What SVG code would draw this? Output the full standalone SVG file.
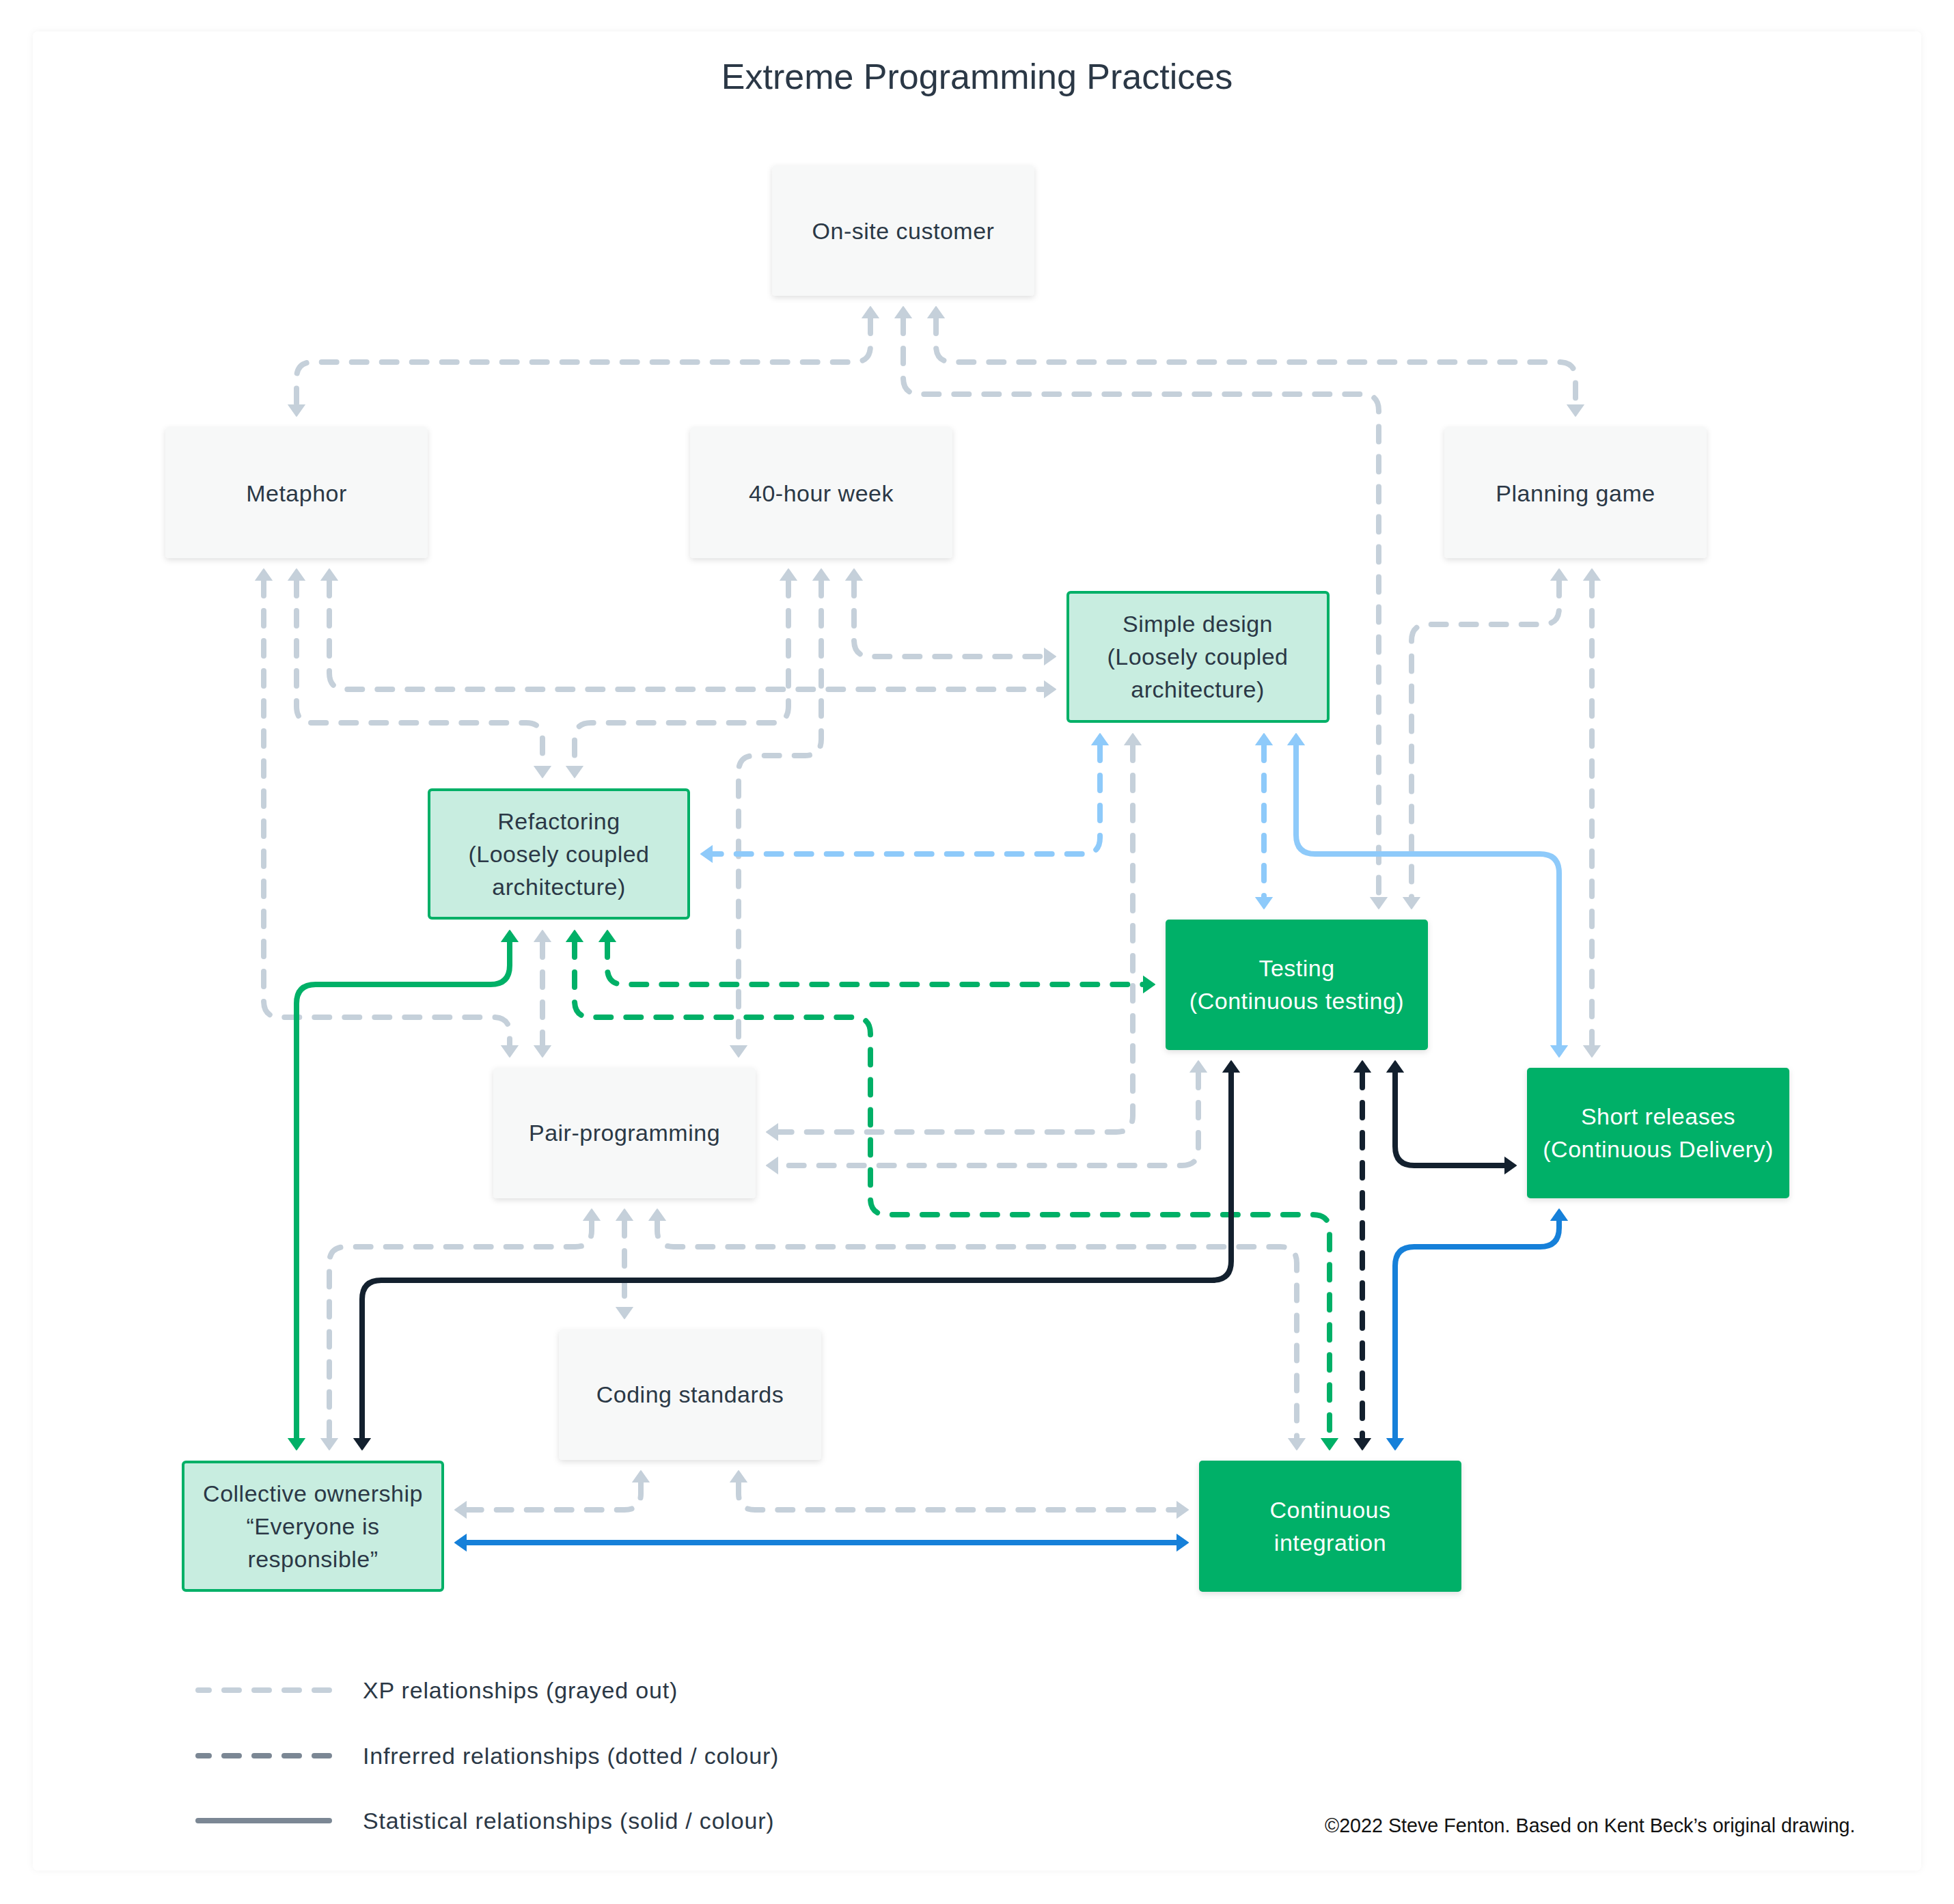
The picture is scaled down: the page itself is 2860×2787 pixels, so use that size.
<svg xmlns="http://www.w3.org/2000/svg" width="2860" height="2787" viewBox="0 0 2860 2787">
<style>
text{font-family:"Liberation Sans",Arial,sans-serif;font-size:34px;fill:#2b3846;text-anchor:middle;letter-spacing:0.5px}
.title{font-size:52px;letter-spacing:0}
.w{fill:#ffffff}
.leg{text-anchor:start;letter-spacing:0.8px}
.copy{text-anchor:start;font-size:28.7px;fill:#111111;letter-spacing:0}
.n{fill:#f7f8f8;filter:url(#sh)}
.lg{fill:#c8ede0;stroke:#00b067;stroke-width:4}
.g{fill:#00b067;filter:url(#sh)}
.c{fill:none;stroke-width:8;stroke-linecap:round;stroke-linejoin:round}
.d{stroke-dasharray:22 22}
.gray{stroke:#c5d0da;marker-start:url(#mg);marker-end:url(#mg)}
.lb{stroke:#8ecafa;marker-start:url(#mlb);marker-end:url(#mlb)}
.bl{stroke:#1680d9;marker-start:url(#mbl);marker-end:url(#mbl)}
.gr{stroke:#00b067;marker-start:url(#mgr);marker-end:url(#mgr)}
.nv{stroke:#13202e;marker-start:url(#mnv);marker-end:url(#mnv)}
</style>
<defs>
<filter id="sh" x="-10%" y="-10%" width="120%" height="130%"><feDropShadow dx="0" dy="3" stdDeviation="4" flood-color="#000" flood-opacity="0.12"/></filter>
<filter id="fsh" x="-5%" y="-5%" width="110%" height="110%"><feDropShadow dx="0" dy="0" stdDeviation="5" flood-color="#000" flood-opacity="0.05"/></filter>
<marker id="mg" markerUnits="userSpaceOnUse" viewBox="0 -14 20 28" refX="0" refY="0" markerWidth="20" markerHeight="28" orient="auto-start-reverse"><path d="M0,-12 L17,0 L0,12 Z" fill="#c5d0da" stroke="#c5d0da" stroke-width="2" stroke-linejoin="round"/></marker>
<marker id="mlb" markerUnits="userSpaceOnUse" viewBox="0 -14 20 28" refX="0" refY="0" markerWidth="20" markerHeight="28" orient="auto-start-reverse"><path d="M0,-12 L17,0 L0,12 Z" fill="#8ecafa" stroke="#8ecafa" stroke-width="2" stroke-linejoin="round"/></marker>
<marker id="mbl" markerUnits="userSpaceOnUse" viewBox="0 -14 20 28" refX="0" refY="0" markerWidth="20" markerHeight="28" orient="auto-start-reverse"><path d="M0,-12 L17,0 L0,12 Z" fill="#1680d9" stroke="#1680d9" stroke-width="2" stroke-linejoin="round"/></marker>
<marker id="mgr" markerUnits="userSpaceOnUse" viewBox="0 -14 20 28" refX="0" refY="0" markerWidth="20" markerHeight="28" orient="auto-start-reverse"><path d="M0,-12 L17,0 L0,12 Z" fill="#00b067" stroke="#00b067" stroke-width="2" stroke-linejoin="round"/></marker>
<marker id="mnv" markerUnits="userSpaceOnUse" viewBox="0 -14 20 28" refX="0" refY="0" markerWidth="20" markerHeight="28" orient="auto-start-reverse"><path d="M0,-12 L17,0 L0,12 Z" fill="#13202e" stroke="#13202e" stroke-width="2" stroke-linejoin="round"/></marker>
</defs>
<rect x="0" y="0" width="2860" height="2787" fill="#ffffff"/>
<rect x="48" y="46" width="2764" height="2692" rx="8" fill="#ffffff" filter="url(#fsh)"/>
<text class="title" x="1430" y="130">Extreme Programming Practices</text>

<g id="connectors">
<path class="c d gray" d="M1274,466 V506 Q1274,530 1250,530 H458 Q434,530 434,554 V592"/>
<path class="c d gray" d="M1322,466 V553 Q1322,577 1346,577 H1994 Q2018,577 2018,601 V1313"/>
<path class="c d gray" d="M1370,466 V506 Q1370,530 1394,530 H2282 Q2306,530 2306,554 V592"/>
<path class="c d gray" d="M386,850 V1465 Q386,1489 410,1489 H722 Q746,1489 746,1513 V1530"/>
<path class="c d gray" d="M434,850 V1034 Q434,1058 458,1058 H770 Q794,1058 794,1082 V1121"/>
<path class="c d gray" d="M482,850 V985 Q482,1009 506,1009 H1528"/>
<path class="c d gray" d="M1154,850 V1034 Q1154,1058 1130,1058 H865 Q841,1058 841,1082 V1121"/>
<path class="c d gray" d="M1202,850 V1082 Q1202,1106 1178,1106 H1105 Q1081,1106 1081,1130 V1530"/>
<path class="c d gray" d="M1250,850 V937 Q1250,961 1274,961 H1528"/>
<path class="c d gray" d="M2282,850 V890 Q2282,914 2258,914 H2090 Q2066,914 2066,938 V1313"/>
<path class="c d gray" d="M2330,850 V1530"/>
<path class="c d gray" d="M1658,1091 V1633 Q1658,1657 1634,1657 H1139"/>
<path class="c d gray" d="M794,1379 V1530"/>
<path class="c d gray" d="M1754,1570 V1682 Q1754,1706 1730,1706 H1139"/>
<path class="c d gray" d="M866,1787 V1801 Q866,1825 842,1825 H506 Q482,1825 482,1849 V2105"/>
<path class="c d gray" d="M914,1787 V1913"/>
<path class="c d gray" d="M962,1787 V1801 Q962,1825 986,1825 H1874 Q1898,1825 1898,1849 V2105"/>
<path class="c d gray" d="M938,2170 V2186 Q938,2210 914,2210 H683"/>
<path class="c d gray" d="M1081,2170 V2186 Q1081,2210 1105,2210 H1722"/>
<path class="c d lb" d="M1610,1091 V1226 Q1610,1250 1586,1250 H1043"/>
<path class="c d lb" d="M1850,1091 V1313"/>
<path class="c lb" d="M1897,1091 V1222 Q1897,1250 1925,1250 H2254 Q2282,1250 2282,1278 V1530"/>
<path class="c d gr" d="M889,1379 V1417 Q889,1441 913,1441 H1673"/>
<path class="c d gr" d="M841,1379 V1465 Q841,1489 865,1489 H1250 Q1274,1489 1274,1513 V1754 Q1274,1778 1298,1778 H1922 Q1946,1778 1946,1802 V2105"/>
<path class="c gr" d="M746,1379 V1413 Q746,1441 718,1441 H462 Q434,1441 434,1469 V2105"/>
<path class="c nv" d="M1802,1570 V1846 Q1802,1874 1774,1874 H558 Q530,1874 530,1902 V2105"/>
<path class="c nv" d="M2042,1570 V1678 Q2042,1706 2070,1706 H2202"/>
<path class="c d nv" d="M1994,1570 V2105"/>
<path class="c bl" d="M2282,1787 V1797 Q2282,1825 2254,1825 H2070 Q2042,1825 2042,1853 V2105"/>
<path class="c bl" d="M683,2258 H1722"/>
</g>

<g id="node-onsite"><rect class="n" x="1130" y="242" width="384" height="191" rx="5"/><text x="1322" y="350">On-site customer</text></g>
<g id="node-metaphor"><rect class="n" x="242" y="625" width="384" height="192" rx="5"/><text x="434" y="734">Metaphor</text></g>
<g id="node-40hour"><rect class="n" x="1010" y="625" width="384" height="192" rx="5"/><text x="1202" y="734">40-hour week</text></g>
<g id="node-planning"><rect class="n" x="2114" y="625" width="384" height="192" rx="5"/><text x="2306" y="734">Planning game</text></g>
<g id="node-simple"><rect class="lg" x="1563" y="867" width="381" height="189" rx="4"/><text x="1753" y="925">Simple design</text><text x="1753" y="973">(Loosely coupled</text><text x="1753" y="1021">architecture)</text></g>
<g id="node-refactoring"><rect class="lg" x="628" y="1156" width="380" height="188" rx="4"/><text x="818" y="1214">Refactoring</text><text x="818" y="1262">(Loosely coupled</text><text x="818" y="1310">architecture)</text></g>
<g id="node-testing"><rect class="g" x="1706" y="1346" width="384" height="191" rx="5"/><text class="w" x="1898" y="1429">Testing</text><text class="w" x="1898" y="1477">(Continuous testing)</text></g>
<g id="node-pair"><rect class="n" x="722" y="1563" width="384" height="191" rx="5"/><text x="914" y="1670">Pair-programming</text></g>
<g id="node-short"><rect class="g" x="2235" y="1563" width="384" height="191" rx="5"/><text class="w" x="2427" y="1646">Short releases</text><text class="w" x="2427" y="1694">(Continuous Delivery)</text></g>
<g id="node-coding"><rect class="n" x="818" y="1946" width="384" height="191" rx="5"/><text x="1010" y="2053">Coding standards</text></g>
<g id="node-collective"><rect class="lg" x="268" y="2140" width="380" height="188" rx="4"/><text x="458" y="2198">Collective ownership</text><text x="458" y="2246">“Everyone is</text><text x="458" y="2294">responsible”</text></g>
<g id="node-ci"><rect class="g" x="1755" y="2138" width="384" height="192" rx="5"/><text class="w" x="1947" y="2222">Continuous</text><text class="w" x="1947" y="2270">integration</text></g>

<g id="legend">
<line x1="290" y1="2474" x2="482" y2="2474" stroke="#c5d0da" stroke-width="8" stroke-linecap="round" stroke-dasharray="22 22" stroke-dashoffset="6"/>
<line x1="290" y1="2570" x2="482" y2="2570" stroke="#7b8794" stroke-width="8" stroke-linecap="round" stroke-dasharray="22 22" stroke-dashoffset="6"/>
<line x1="290" y1="2665" x2="482" y2="2665" stroke="#7b8794" stroke-width="8" stroke-linecap="round"/>
<text class="leg" x="531" y="2486">XP relationships (grayed out)</text>
<text class="leg" x="531" y="2582">Infrerred relationships (dotted / colour)</text>
<text class="leg" x="531" y="2677">Statistical relationships (solid / colour)</text>
</g>
<text class="copy" x="1939" y="2682">©2022 Steve Fenton. Based on Kent Beck’s original drawing.</text>
</svg>
